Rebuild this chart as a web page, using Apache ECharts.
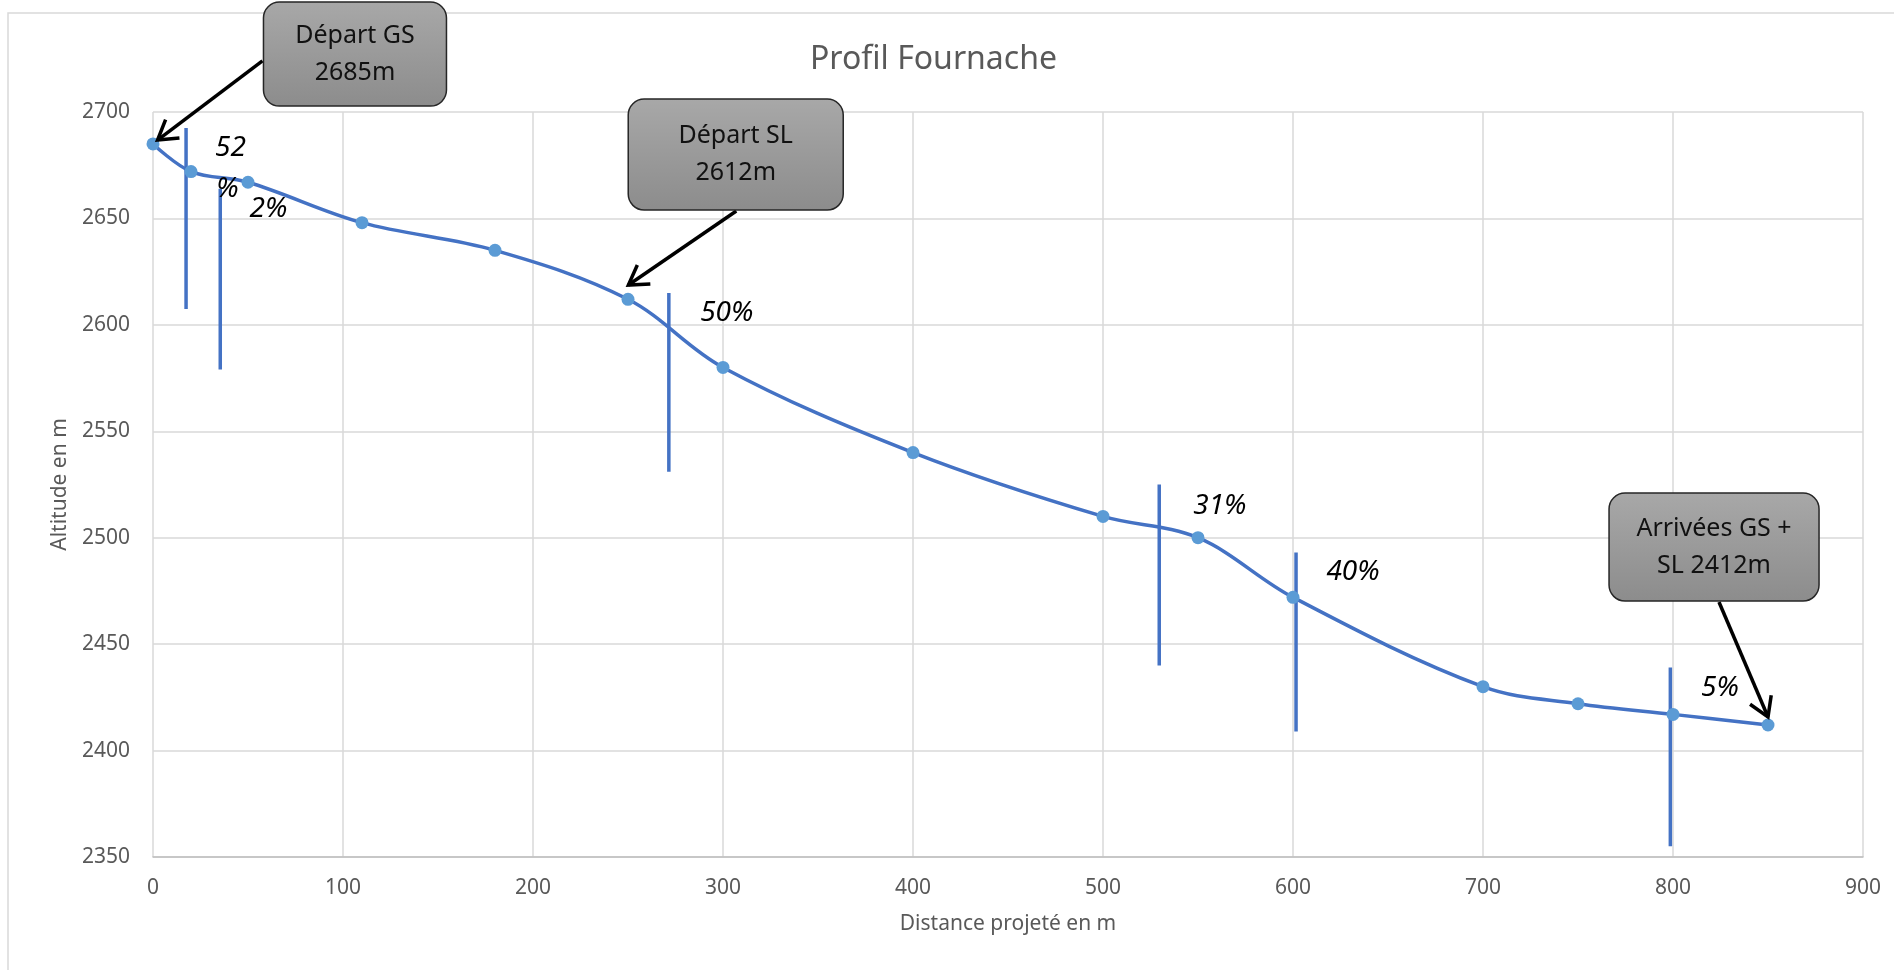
<!DOCTYPE html>
<html>
<head>
<meta charset="utf-8">
<title>Profil Fournache</title>
<script src="https://cdn.jsdelivr.net/npm/echarts@6/dist/echarts.min.js"></script>
<style>
  html, body { margin: 0; padding: 0; background: #fff; }
  #chart { width: 1894px; height: 970px; }
</style>
</head>
<body>
<div id="chart"></div>
<script>
// profile points: distance (m) / altitude (m)
const distances = [0, 20, 50, 110, 180, 250, 300, 400, 500, 550, 600, 700, 750, 800, 850];
const altitudes = [2685, 2672, 2667, 2648, 2635, 2612, 2580, 2540, 2510, 2500, 2472, 2430, 2422, 2417, 2412];

// slope separators: [x, top, bottom]
const slopeBars = [
  [17.4, 2692.5, 2607.5],
  [35.4, 2664, 2579],
  [271.5, 2615, 2531],
  [529.6, 2525, 2440],
  [601.6, 2493, 2409],
  [798.6, 2439, 2355]
];

// slope labels: text + centre in data units
const slopeText = ['52', '%', '2%', '50%', '31%', '40%', '5%'];
const slopeX = [40.8, 39.2, 60.8, 302, 561.5, 631.6, 824.7];
const slopeY = [2683, 2663.8, 2654.4, 2605.7, 2514.8, 2484, 2429.5];

// callouts
const calloutText = ['Départ GS\n2685m', 'Départ SL\n2612m', 'Arrivées GS +\nSL 2412m'];
const calloutBox = [[106.3, 2727.2], [306.7, 2680], [821.6, 2495.6]];
const calloutFrom = [[57.6, 2724], [307, 2653.5], [824.2, 2469.8]];
const calloutTip = [[2.4, 2686.8], [250.2, 2618.7], [850, 2415.8]];
const calloutSize = [[183, 104], [215, 111], [210, 108]];

const xTicks = { min: 0, max: 900, step: 100 };
const yTicks = { min: 2350, max: 2700, step: 50 };

const FONT = '"Noto Sans", "Open Sans", sans-serif';
const chart = echarts.init(document.getElementById('chart'));

const barSeries = slopeBars.map(b => ({
  type: 'line',
  data: [[b[0], b[1]], [b[0], b[2]]],
  symbol: 'none',
  lineStyle: { color: '#4472C4', width: 3.5 },
  z: 1,
  silent: true
}));

const option = {
  backgroundColor: '#fff',
  animation: false,
  title: {
    text: 'Profil Fournache',
    left: 805,
    top: 39,
    textStyle: { fontFamily: FONT, fontSize: 32, fontWeight: 'normal', color: '#595959' }
  },
  graphic: [{
    type: 'rect',
    shape: { x: 8, y: 13, width: 1920, height: 1000 },
    style: { fill: 'none', stroke: '#d9d9d9', lineWidth: 1.5 },
    silent: true
  }],
  grid: { left: 153, right: 31, top: 112, bottom: 113 },
  xAxis: {
    type: 'value',
    min: xTicks.min,
    max: xTicks.max,
    interval: xTicks.step,
    name: 'Distance projeté en m',
    nameLocation: 'middle',
    nameGap: 57,
    nameTextStyle: { fontFamily: FONT, fontSize: 21, color: '#595959' },
    axisLine: { show: true, lineStyle: { color: '#bfbfbf', width: 1.5 } },
    axisTick: { show: false },
    axisLabel: { fontFamily: FONT, fontSize: 21, color: '#595959', margin: 21 },
    splitLine: { show: true, lineStyle: { color: '#d9d9d9', width: 1.5 } }
  },
  yAxis: {
    type: 'value',
    min: yTicks.min,
    max: yTicks.max,
    interval: yTicks.step,
    name: 'Altitude en m',
    nameLocation: 'middle',
    nameGap: 82,
    nameTextStyle: { fontFamily: FONT, fontSize: 21, color: '#595959' },
    axisLine: { show: false },
    axisTick: { show: false },
    axisLabel: { fontFamily: FONT, fontSize: 21, color: '#595959', margin: 23, formatter: v => String(v) },
    splitLine: { show: true, lineStyle: { color: '#d9d9d9', width: 1.5 } }
  },
  series: [
    ...barSeries,
    {
      type: 'line',
      data: distances.map((d, i) => [d, altitudes[i]]),
      smooth: 0.35,
      symbol: 'circle',
      symbolSize: 13,
      itemStyle: { color: '#5B9BD5' },
      lineStyle: { color: '#4472C4', width: 3.5 },
      z: 3
    },
    {
      type: 'custom',
      data: slopeText.map((t, i) => [slopeX[i], slopeY[i]]),
      renderItem: (params, api) => {
        const p = api.coord([api.value(0), api.value(1)]);
        return {
          type: 'text',
          x: p[0],
          y: p[1],
          style: {
            text: slopeText[params.dataIndex],
            align: 'center',
            verticalAlign: 'middle',
            font: 'italic 28px ' + FONT,
            fill: '#000'
          }
        };
      },
      z: 4,
      silent: true
    },
    {
      type: 'custom',
      data: calloutBox.map((b, i) => [b[0], b[1], calloutFrom[i][0], calloutFrom[i][1], calloutTip[i][0], calloutTip[i][1]]),
      renderItem: (params, api) => {
        const i = params.dataIndex;
        const c = api.coord([api.value(0), api.value(1)]);
        const s = api.coord([api.value(2), api.value(3)]);
        const t = api.coord([api.value(4), api.value(5)]);
        const w = calloutSize[i][0], h = calloutSize[i][1];
        const ang = Math.atan2(t[1] - s[1], t[0] - s[0]);
        const len = 22, spread = 0.55;
        const a1 = [t[0] - len * Math.cos(ang - spread), t[1] - len * Math.sin(ang - spread)];
        const a2 = [t[0] - len * Math.cos(ang + spread), t[1] - len * Math.sin(ang + spread)];
        return {
          type: 'group',
          children: [
            {
              type: 'line',
              shape: { x1: s[0], y1: s[1], x2: t[0], y2: t[1] },
              style: { stroke: '#000', lineWidth: 3.5 }
            },
            {
              type: 'polyline',
              shape: { points: [a1, t, a2] },
              style: { stroke: '#000', lineWidth: 3.5, fill: null, lineJoin: 'miter' }
            },
            {
              type: 'rect',
              shape: { x: c[0] - w / 2, y: c[1] - h / 2, width: w, height: h, r: 16 },
              style: {
                fill: new echarts.graphic.LinearGradient(0, 0, 0, 1, [
                  { offset: 0, color: '#a8a8a8' },
                  { offset: 1, color: '#8c8c8c' }
                ]),
                stroke: '#262626',
                lineWidth: 1.5
              }
            },
            {
              type: 'text',
              x: c[0],
              y: c[1],
              style: {
                text: calloutText[i],
                align: 'center',
                verticalAlign: 'middle',
                font: '25px ' + FONT,
                lineHeight: 37,
                fill: '#111'
              }
            }
          ]
        };
      },
      z: 5,
      silent: true
    }
  ]
};

chart.setOption(option);
</script>
</body>
</html>
